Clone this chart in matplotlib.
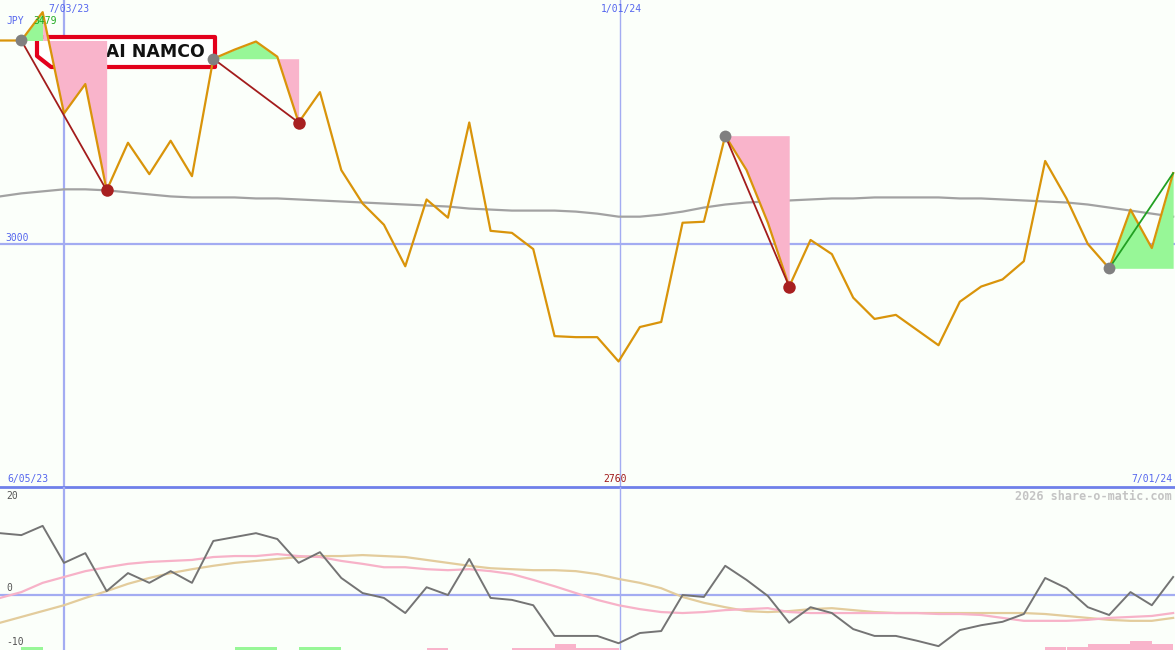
import matplotlib
matplotlib.use("Agg")
import matplotlib.pyplot as plt
import numpy as np
from matplotlib.patches import Polygon

# weekly closes (JPY), first point 6/12/23 .. last 7/01/24
price = [3201, 3201, 3229, 3129, 3158, 3053, 3100, 3069, 3102, 3067,
         3183, 3192, 3200, 3185, 3120, 3150, 3073, 3040, 3019, 2978,
         3044, 3026, 3120, 3013, 3011, 2995, 2909, 2908, 2908, 2884,
         2918, 2923, 3021, 3022, 3107, 3073, 3021, 2958, 3004, 2990,
         2947, 2926, 2930, 2915, 2900, 2943, 2958, 2965, 2983, 3082,
         3045, 3000, 2976, 3034, 2996, 3070]
ma_long = [3047, 3050, 3052, 3054, 3054, 3053, 3051, 3049, 3047, 3046,
           3046, 3046, 3045, 3045, 3044, 3043, 3042, 3041, 3040, 3039,
           3038, 3037, 3035, 3034, 3033, 3033, 3033, 3032, 3030, 3027,
           3027, 3029, 3032, 3036, 3039, 3041, 3042, 3043, 3044, 3045,
           3045, 3046, 3046, 3046, 3046, 3045, 3045, 3044, 3043, 3042,
           3041, 3039, 3036, 3033, 3030, 3027]

# lower panel oscillators
momentum = [12.7, 12.3, 14.2, 6.6, 8.6, 0.8, 4.5, 2.5, 4.9, 2.5,
            11.1, 11.9, 12.7, 11.5, 6.6, 8.8, 3.5, 0.4, -0.6, -3.7,
            1.6, 0.0, 7.4, -0.6, -1.0, -2.1, -8.4, -8.4, -8.4, -9.9,
            -7.8, -7.4, 0.0, -0.4, 6.0, 3.1, -0.2, -5.7, -2.5, -3.7,
            -7.0, -8.4, -8.4, -9.4, -10.5, -7.2, -6.2, -5.5, -3.9, 3.5,
            1.4, -2.5, -4.1, 0.6, -2.1, 3.7]
osc_pink = [-0.6, 0.6, 2.5, 3.7, 4.9, 5.7, 6.4, 6.8, 7.0, 7.2,
            7.8, 8.0, 8.0, 8.4, 8.0, 7.8, 7.0, 6.4, 5.7, 5.7,
            5.3, 5.1, 5.3, 4.9, 4.3, 3.1, 1.8, 0.4, -1.0, -2.1,
            -2.9, -3.5, -3.7, -3.5, -3.1, -2.9, -2.7, -3.5, -3.7, -3.7,
            -3.7, -3.7, -3.7, -3.7, -3.9, -3.9, -4.1, -4.7, -5.3, -5.3,
            -5.3, -5.1, -4.7, -4.5, -4.3, -3.7]
osc_tan = [-5.7, -4.5, -3.3, -2.1, -0.6, 0.8, 2.3, 3.5, 4.5, 5.3,
           6.0, 6.6, 7.0, 7.4, 7.8, 8.0, 8.0, 8.2, 8.0, 7.8,
           7.2, 6.6, 6.0, 5.5, 5.3, 5.1, 5.1, 4.9, 4.3, 3.3,
           2.5, 1.4, -0.4, -1.6, -2.5, -3.3, -3.5, -3.3, -2.9, -2.7,
           -3.1, -3.5, -3.7, -3.7, -3.7, -3.7, -3.7, -3.7, -3.7, -3.9,
           -4.3, -4.7, -5.1, -5.3, -5.3, -4.7]

# small histogram bars at the bottom of the lower panel
green_bar_idx = [1, 11, 12, 14, 15]
green_bar_h = [0.6, 0.6, 0.6, 0.6, 0.6]
pink_bar_idx = [20, 24, 25, 26, 27, 28, 49, 50, 51, 52, 53, 54]
pink_bar_h = [0.4, 0.4, 0.4, 1.2, 0.4, 0.4, 0.6, 0.6, 1.2, 1.2, 1.8, 1.2]

# swings: (start index, end index), green span, pink span
swing_down = [(1, 5), (10, 14), (34, 37)]
swing_up = [(52, 55)]
green_spans = [(1, 2), (10, 13), (52, 55)]
pink_spans = [(2, 5), (13, 14), (34, 37)]

BG = "#fbfffa"
GRID = "#a3acf2"
SEP = "#6f80ea"
ORANGE = "#d9940a"
PINK_FILL = "#f9b4cb"
GREEN_FILL = "#97f797"

W, H = 1175, 650
fig = plt.figure(figsize=(W / 100, H / 100), dpi=100, facecolor=BG)
ax = fig.add_axes([0, 1 - 487 / H, 1, 487 / H])
ax2 = fig.add_axes([0, 0, 1, 163 / H])
for a in (ax, ax2):
    a.set_facecolor(BG)
    a.set_axis_off()
    a.set_xlim(0, W / 21.33)

x = np.arange(len(price))
price = np.array(price, dtype=float)
ax.set_ylim(2760, 3241)
ax2.set_ylim(-11.29, 22.18)

# grid
ax.axhline(3000, color=GRID, lw=1.6, zorder=1)
ax.axvline(3, color=GRID, lw=1.6, zorder=1)
ax.axvline(29.05, color=GRID, lw=1.0, zorder=1)
ax2.axhline(0, color=GRID, lw=1.6, zorder=1)
ax2.axvline(3, color=GRID, lw=1.6, zorder=1)
ax2.axvline(29.05, color=GRID, lw=1.0, zorder=1)
ax.axhline(2760, color=SEP, lw=2.0, zorder=10, clip_on=False)

# long moving average
ax.plot(x, ma_long, color="#a2a2a2", lw=1.6, zorder=2)

# logo box (pixel coords -> figure fraction)
def fpx(px, py):
    return (px / W, 1 - py / H)

logo = Polygon([fpx(37, 37), fpx(215, 37), fpx(215, 67), fpx(51, 67), fpx(37, 56)],
               closed=True, transform=fig.transFigure, facecolor="white",
               edgecolor="#e3001b", lw=3.0, joinstyle="round", zorder=2.5)
ax.add_patch(logo)
ax.text(*fpx(127, 52), "BANDAI NAMCO", transform=fig.transFigure, ha="center",
        va="center", fontsize=12.5, fontweight="bold", color="#111111", zorder=2.6)

# swing fills
for a, b in green_spans:
    lvl = price[a]
    ax.fill_between(x[a:b + 1], price[a:b + 1], lvl, color=GREEN_FILL, lw=0, zorder=3)
for a, b in pink_spans:
    s = [s0 for s0, s1 in swing_down if s0 <= a <= s1][0]
    lvl = price[s]
    ax.fill_between(x[a:b + 1], price[a:b + 1], lvl, color=PINK_FILL, lw=0, zorder=3)

# price line
ax.plot(x, price, color=ORANGE, lw=1.6, zorder=4)

# swing lines and markers
for a, b in swing_down:
    ax.plot([a, b], [price[a], price[b]], color="#a31c1c", lw=1.3, zorder=5)
    ax.plot(a, price[a], "o", color="#808080", ms=8.5, mec="none", zorder=5.5)
    ax.plot(b, price[b], "o", color="#a82020", ms=9, mec="none", zorder=5.5)
for a, b in swing_up:
    ax.plot([a, b], [price[a], price[b]], color="#22a022", lw=1.3, zorder=5)
    ax.plot(a, price[a], "o", color="#808080", ms=8.5, mec="none", zorder=5.5)

# lower panel
ax2.bar(green_bar_idx, green_bar_h, width=1, align="edge", bottom=-11.29,
        color=GREEN_FILL, lw=0, zorder=2)
ax2.bar(pink_bar_idx, pink_bar_h, width=1, align="edge", bottom=-11.29,
        color=PINK_FILL, lw=0, zorder=2)
ax2.plot(x, osc_tan, color="#e3cc9c", lw=1.6, zorder=3)
ax2.plot(x, osc_pink, color="#f7b2c8", lw=1.6, zorder=3)
ax2.plot(x, momentum, color="#747474", lw=1.4, zorder=4)

# labels
mono = dict(family="DejaVu Sans Mono", fontsize=7, transform=fig.transFigure, va="center")
fig.text(*fpx(6, 21), "JPY", color="#5566ee", ha="left", **mono)
fig.text(*fpx(33, 21), "3479", color="#22aa22", ha="left", **mono)
fig.text(*fpx(48, 9), "7/03/23", color="#5566ee", ha="left", **mono)
fig.text(*fpx(601, 9), "1/01/24", color="#5566ee", ha="left", **mono)
fig.text(*fpx(5, 238), "3000", color="#5566ee", ha="left", **mono)
fig.text(*fpx(7, 479), "6/05/23", color="#5566ee", ha="left", **mono)
fig.text(*fpx(603, 479), "2760", color="#a01818", ha="left", **mono)
fig.text(*fpx(1172, 479), "7/01/24", color="#5566ee", ha="right", **mono)
fig.text(*fpx(6, 496), "20", color="#555555", ha="left", **mono)
fig.text(*fpx(6, 588), "0", color="#555555", ha="left", **mono)
fig.text(*fpx(6, 642), "-10", color="#555555", ha="left", **mono)
fig.text(*fpx(1172, 496), "2026 share-o-matic.com", color="#c4c4c4", ha="right",
         va="center", family="DejaVu Sans Mono", fontsize=8.5, fontweight="bold",
         transform=fig.transFigure)

fig.savefig("out.png", dpi=100, facecolor=BG)
